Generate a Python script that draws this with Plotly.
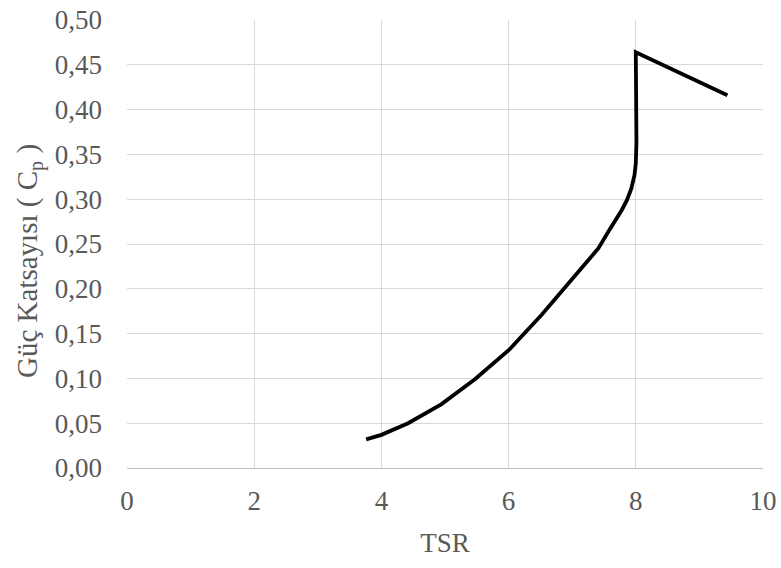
import plotly.graph_objects as go

# Data
tsr = [3.76, 4.0, 4.42, 4.94, 5.47, 6.01, 6.52, 6.94, 7.41, 7.57, 7.70, 7.78, 7.86, 7.93, 7.98, 8.0, 8.01, 8.0, 9.44]
cp = [0.032, 0.037, 0.050, 0.071, 0.099, 0.132, 0.171, 0.206, 0.245, 0.264, 0.278, 0.288, 0.299, 0.312, 0.327, 0.340, 0.363, 0.464, 0.416]

x_ticks = [0, 2, 4, 6, 8, 10]
y_ticks = [0.00, 0.05, 0.10, 0.15, 0.20, 0.25, 0.30, 0.35, 0.40, 0.45, 0.50]
y_tick_text = [f"{v:.2f}".replace(".", ",") for v in y_ticks]
x_title = "TSR"
y_title = "Güç Katsayısı ( C<sub>p</sub> )"

font_family = "Liberation Serif"
grey = "#595959"
fsize = 27

W, H = 781, 568
L, R, T, B = 127, 18, 20, 100
plot_w = W - L - R
plot_h = H - T - B

fig = go.Figure()
fig.add_trace(go.Scatter(
    x=tsr, y=cp, mode="lines",
    line=dict(color="black", width=3.8, shape="linear"),
    showlegend=False,
))

fig.update_layout(
    width=W, height=H,
    margin=dict(l=L, r=R, t=T, b=B, autoexpand=False),
    paper_bgcolor="white", plot_bgcolor="white",
    font=dict(family=font_family, size=fsize, color=grey),
    xaxis=dict(
        range=[0, 10], tickvals=x_ticks, ticktext=[str(v) for v in x_ticks],
        showgrid=True, gridcolor="#d9d9d9", gridwidth=1,
        zeroline=False, showline=True, linecolor="#bfbfbf", linewidth=1,
        ticks="", ticklabelstandoff=9, automargin=False,
        tickfont=dict(family=font_family, size=fsize, color=grey),
        title=dict(text=x_title, standoff=17, font=dict(family=font_family, size=fsize, color=grey)),
    ),
    yaxis=dict(
        range=[0, 0.5], tickvals=y_ticks, ticktext=y_tick_text,
        showgrid=True, gridcolor="#d9d9d9", gridwidth=1,
        zeroline=False, showline=False, automargin=False,
        ticks="", ticklabelstandoff=24,
        tickfont=dict(family=font_family, size=fsize, color=grey),
    ),
    annotations=[dict(
        text=y_title, textangle=-90, showarrow=False,
        xref="paper", yref="paper",
        x=(29 - L) / plot_w, y=(H - B - 261) / plot_h,
        xanchor="center", yanchor="middle",
        font=dict(family=font_family, size=29, color=grey),
    )],
)

fig.write_html("out.html")
